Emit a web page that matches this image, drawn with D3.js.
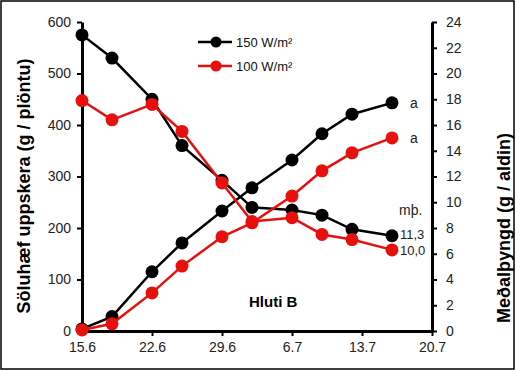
<!DOCTYPE html>
<html>
<head>
<meta charset="utf-8">
<script src="https://cdn.jsdelivr.net/npm/d3@7"></script>
<style>
  body { margin: 0; background: #fff; }
  svg { display: block; font-family: "Liberation Sans", Arial, sans-serif; }
</style>
</head>
<body>
<svg id="chart" width="516" height="371"></svg>
<script>
// days after 15.6
const days = [0, 3, 7, 10, 14, 17, 21, 24, 27, 31];
const tickDays = [0, 7, 14, 21, 28, 35];
const dateLabels = ["15.6", "22.6", "29.6", "6.7", "13.7", "20.7"];

// cumulative marketable yield (g / plant), left axis
const yield150 = [4, 28, 115, 171, 233, 278, 332, 383, 421, 443];
const yield100 = [2, 14, 74, 126, 183, 210, 262, 311, 346, 375];

// mean fruit weight (g / fruit), right axis
const weight150 = [23.0, 21.2, 18.0, 14.4, 11.7, 9.6, 9.4, 9.0, 7.9, 7.4];
const weight100 = [17.9, 16.4, 17.6, 15.5, 11.5, 8.5, 8.8, 7.5, 7.1, 6.3];

const seriesNames = ["150 W/m²", "100 W/m²"];
const meanLabels = ["11,3", "10,0"];

const svg = d3.select("#chart");

svg.append("rect")
    .attr("x", 1).attr("y", 1)
    .attr("width", 513).attr("height", 368)
    .attr("fill", "none")
    .attr("stroke", "#000")
    .attr("stroke-width", 1.5);

const x = d3.scaleLinear().domain([0, 35]).range([82, 432]);
const yL = d3.scaleLinear().domain([0, 600]).range([331, 22]);
const yR = d3.scaleLinear().domain([0, 24]).range([331, 22]);

function styleAxis(g) {
    g.select(".domain").attr("stroke", "#000").attr("stroke-width", 3);
    g.selectAll(".tick line").attr("stroke", "#000").attr("stroke-width", 2);
    g.selectAll(".tick text")
        .attr("fill", "#222")
        .style("font-size", "14px")
        .style("font-family", "'Liberation Sans', Arial, sans-serif");
}

svg.append("g")
    .attr("transform", "translate(0,331)")
    .call(d3.axisBottom(x).tickValues(tickDays)
        .tickFormat((d, i) => dateLabels[i]).tickSize(5).tickSizeOuter(0).tickPadding(6))
    .call(styleAxis);

svg.append("g")
    .attr("transform", "translate(82,0)")
    .call(d3.axisLeft(yL).tickValues(d3.range(0, 601, 100))
        .tickSize(5).tickSizeOuter(0).tickPadding(6))
    .call(styleAxis);

svg.append("g")
    .attr("transform", "translate(432,0)")
    .call(d3.axisRight(yR).tickValues(d3.range(0, 25, 2))
        .tickSize(5).tickSizeOuter(0).tickPadding(9))
    .call(styleAxis);

// axis titles
svg.append("text")
    .attr("transform", "translate(30,186) rotate(-90)")
    .attr("text-anchor", "middle")
    .style("font-size", "18px").style("font-weight", "bold")
    .text("Söluhæf uppskera (g / plöntu)");

svg.append("text")
    .attr("transform", "translate(510,228) rotate(-90)")
    .attr("text-anchor", "middle")
    .style("font-size", "18px").style("font-weight", "bold")
    .text("Meðalþyngd (g / aldin)");

const colors = ["#000", "#e8100c"];

function drawSeries(values, yScale, color) {
    const line = d3.line().x((d, i) => x(days[i])).y(d => yScale(d));
    svg.append("path")
        .datum(values)
        .attr("d", line)
        .attr("fill", "none")
        .attr("stroke", color)
        .attr("stroke-width", 2.5);
    svg.append("g").selectAll("circle")
        .data(values)
        .join("circle")
        .attr("cx", (d, i) => x(days[i]))
        .attr("cy", d => yScale(d))
        .attr("r", 6.5)
        .attr("fill", color);
}

drawSeries(weight150, yR, colors[0]);
drawSeries(yield150, yL, colors[0]);
drawSeries(weight100, yR, colors[1]);
drawSeries(yield100, yL, colors[1]);

// legend
const legend = svg.append("g");
seriesNames.forEach((name, i) => {
    const ly = 42 + i * 24;
    legend.append("line")
        .attr("x1", 198).attr("x2", 232)
        .attr("y1", ly).attr("y2", ly)
        .attr("stroke", colors[i]).attr("stroke-width", 2.5);
    legend.append("circle")
        .attr("cx", 216).attr("cy", ly).attr("r", 5.5)
        .attr("fill", colors[i]);
    legend.append("text")
        .attr("x", 236).attr("y", ly + 5)
        .attr("fill", "#111")
        .style("font-size", "13px")
        .text(name);
});

// annotations
const last = days.length - 1;
[yield150, yield100].forEach(v => {
    svg.append("text")
        .attr("x", x(days[last]) + 18).attr("y", yL(v[last]) + 5)
        .attr("fill", "#222").style("font-size", "14px")
        .text("a");
});

svg.append("text")
    .attr("x", 399).attr("y", 215)
    .attr("fill", "#222").style("font-size", "14px")
    .text("mþ.");

[weight150, weight100].forEach((v, i) => {
    svg.append("text")
        .attr("x", x(days[last]) + 8).attr("y", yR(v[last]) + 4 + (i === 0 ? -1 : 1.5))
        .attr("fill", "#222").style("font-size", "13px")
        .text(meanLabels[i]);
});

svg.append("text")
    .attr("x", 249).attr("y", 307)
    .style("font-size", "15px").style("font-weight", "bold")
    .text("Hluti B");
</script>
</body>
</html>
